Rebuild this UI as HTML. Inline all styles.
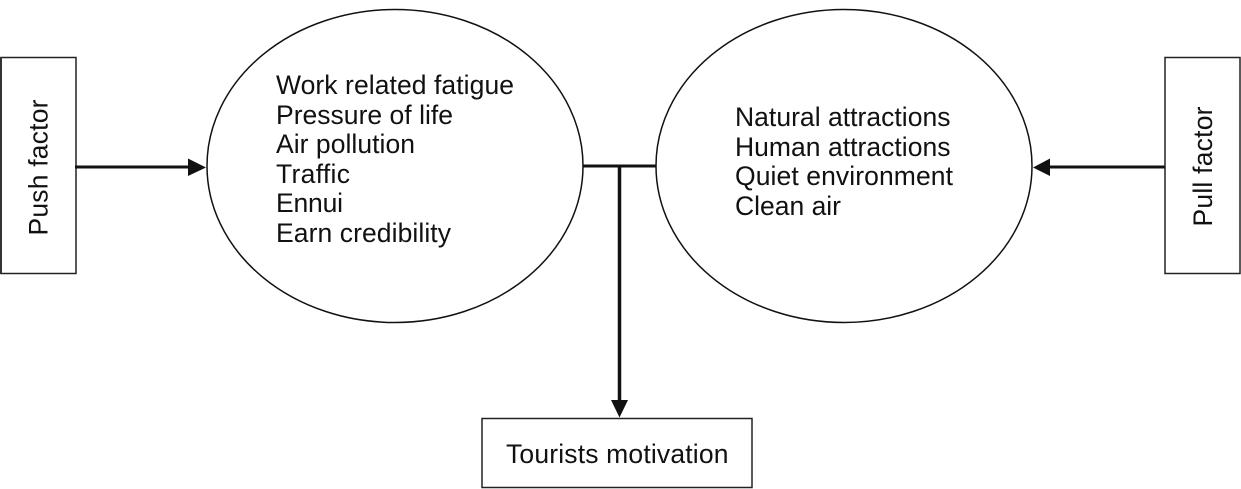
<!DOCTYPE html>
<html>
<head>
<meta charset="utf-8">
<style>
html,body{margin:0;padding:0;background:#fff;}
svg{display:block;}
text{font-family:"Liberation Sans",sans-serif;font-size:26.500px;fill:#111;}
</style>
</head>
<body>
<svg width="1241" height="489" viewBox="0 0 1241 489" xmlns="http://www.w3.org/2000/svg">
<rect x="1" y="57.500" width="75" height="216" fill="#fff" stroke="#222" stroke-width="1.500"/>
<line x1="1" y1="57" x2="1" y2="274" stroke="#333" stroke-width="2"/>
<rect x="1165" y="57.500" width="75" height="216" fill="#fff" stroke="#222" stroke-width="1.500"/>
<rect x="482" y="418.500" width="270" height="69" fill="#fff" stroke="#222" stroke-width="1.500"/>
<ellipse cx="395" cy="166" rx="188" ry="156.500" fill="#fff" stroke="#111" stroke-width="1.500"/>
<ellipse cx="844" cy="166" rx="188" ry="156.500" fill="#fff" stroke="#111" stroke-width="1.500"/>
<line x1="75" y1="167" x2="190" y2="167" stroke="#111" stroke-width="3"/>
<polygon points="206,167.500 188,158.500 188,176" fill="#111"/>
<line x1="1165" y1="167" x2="1049" y2="167" stroke="#111" stroke-width="3"/>
<polygon points="1033,167.500 1050,158.500 1050,176" fill="#111"/>
<line x1="583" y1="166" x2="656" y2="166" stroke="#111" stroke-width="3"/>
<line x1="619.500" y1="166" x2="619.500" y2="403" stroke="#111" stroke-width="3.500"/>
<polygon points="619.500,417.500 611,400 628,400" fill="#111"/>
<text x="276" y="94" textLength="238" lengthAdjust="spacing">Work related fatigue</text>
<text x="276" y="124" textLength="177" lengthAdjust="spacing">Pressure of life</text>
<text x="276" y="153" textLength="139" lengthAdjust="spacing">Air pollution</text>
<text x="276" y="183" textLength="74" lengthAdjust="spacing">Traffic</text>
<text x="276" y="212" textLength="67" lengthAdjust="spacing">Ennui</text>
<text x="276" y="242" textLength="175" lengthAdjust="spacing">Earn credibility</text>
<text x="735" y="126" textLength="215.500" lengthAdjust="spacing">Natural attractions</text>
<text x="735" y="156" textLength="215.500" lengthAdjust="spacing">Human attractions</text>
<text x="735" y="185" textLength="218" lengthAdjust="spacing">Quiet environment</text>
<text x="735" y="215" textLength="106" lengthAdjust="spacing">Clean air</text>
<text x="506" y="463" textLength="222.500" lengthAdjust="spacing">Tourists motivation</text>
<text transform="translate(47.500,235.500) rotate(-90)" textLength="136" lengthAdjust="spacing">Push factor</text>
<text transform="translate(1212,226.500) rotate(-90)" textLength="120" lengthAdjust="spacing">Pull factor</text>
</svg>
</body>
</html>
